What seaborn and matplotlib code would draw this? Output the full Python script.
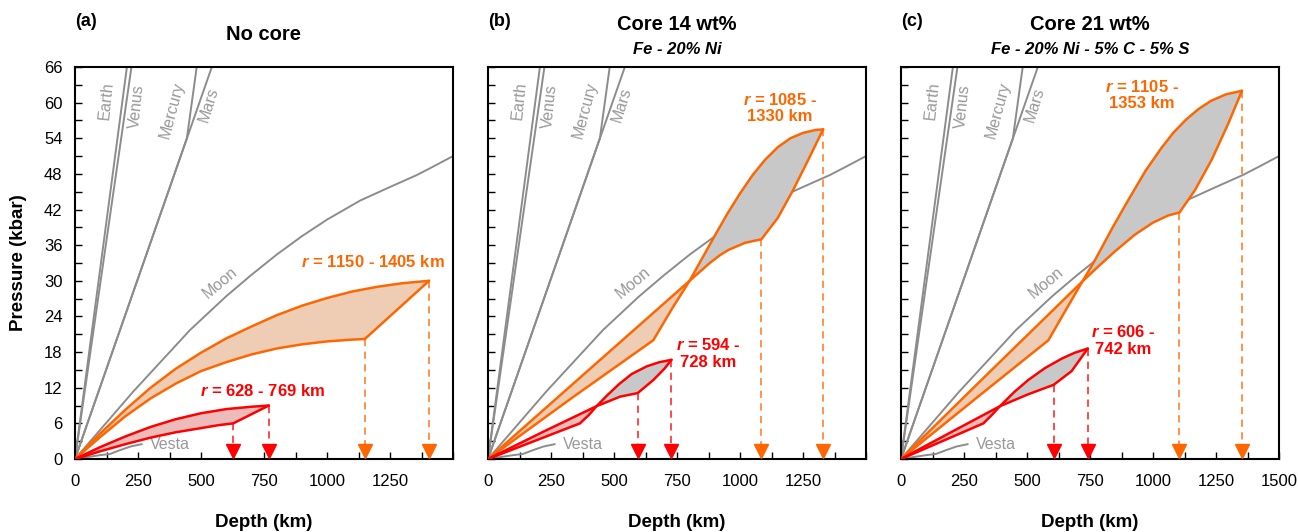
import numpy as np
import matplotlib
matplotlib.use("Agg")
import matplotlib.pyplot as plt
import seaborn as sns
from matplotlib.ticker import MultipleLocator, FixedLocator

# ---------------- data (depth km, pressure kbar) ----------------
earth_d = [0, 206]
earth_p = [0, 66]
venus_d = [0, 224]
venus_p = [0, 66]
mercury_d = [0, 444, 483]
mercury_p = [0, 54, 66]
mars_d = [0, 543]
mars_p = [0, 66]
moon_d = [0, 230, 456, 600, 700, 800, 900, 1000, 1131, 1250, 1356, 1420, 1500]
moon_p = [0, 11.3, 21.7, 27.4, 31.0, 34.4, 37.5, 40.3, 43.5, 45.8, 47.8, 49.2, 51.0]
vesta_d = [0, 60, 100, 139, 179, 220, 265]
vesta_p = [0, 0.4, 0.65, 0.85, 1.5, 2.1, 2.5]

# panel (a) no core
a_orange_up_d = [0, 100, 200, 300, 400, 500, 600, 700, 800, 900, 1000, 1100, 1200, 1300, 1405]
a_orange_up_p = [0, 4.3, 8.3, 12.0, 15.2, 17.9, 20.3, 22.3, 24.2, 25.8, 27.1, 28.2, 29.0, 29.6, 30.0]
a_orange_lo_d = [0, 100, 200, 300, 400, 500, 600, 700, 800, 900, 1000, 1100, 1150, 1405]
a_orange_lo_p = [0, 3.7, 7.2, 10.2, 12.7, 14.8, 16.3, 17.6, 18.6, 19.3, 19.8, 20.1, 20.2, 30.0]
a_red_up_d = [0, 100, 200, 300, 400, 500, 600, 700, 769]
a_red_up_p = [0, 2.0, 3.8, 5.4, 6.7, 7.7, 8.4, 8.8, 9.0]
a_red_lo_d = [0, 100, 200, 300, 400, 500, 570, 628, 769]
a_red_lo_p = [0, 1.3, 2.5, 3.6, 4.5, 5.2, 5.7, 6.0, 9.0]

# panel (b) core 14 wt%
b_orange_s_d = [0, 400, 800, 880, 920, 954, 1020, 1085, 1150, 1211, 1270, 1330]
b_orange_s_p = [0, 15.0, 30.0, 33.0, 34.3, 35.2, 36.4, 37.0, 40.6, 45.3, 50.3, 55.5]
b_orange_k_d = [0, 330, 656, 730, 800, 850, 900, 950, 1000, 1050, 1100, 1150, 1200, 1250, 1300, 1330]
b_orange_k_p = [0, 10.2, 20.0, 25.3, 30.0, 33.8, 37.6, 41.3, 44.7, 47.8, 50.4, 52.5, 54.0, 54.9, 55.4, 55.5]
b_orange_cross = 800
b_red_s_d = [0, 215, 431, 524, 594, 656, 700, 728]
b_red_s_p = [0, 4.5, 8.9, 10.5, 11.1, 13.3, 15.2, 16.7]
b_red_k_d = [0, 365, 400, 431, 470, 520, 570, 630, 680, 728]
b_red_k_p = [0, 6.0, 7.4, 8.9, 10.6, 12.6, 14.3, 15.6, 16.3, 16.7]
b_red_cross = 431

# panel (c) core 21 wt%
c_orange_s_d = [0, 360, 720, 780, 850, 929, 1000, 1060, 1105, 1167, 1233, 1299, 1353]
c_orange_s_p = [0, 15.0, 29.9, 32.3, 35.0, 37.8, 39.8, 41.0, 41.5, 45.3, 50.4, 56.5, 62.0]
c_orange_k_d = [0, 300, 585, 650, 720, 770, 840, 902, 970, 1034, 1080, 1130, 1180, 1230, 1290, 1353]
c_orange_k_p = [0, 10.3, 20.0, 24.8, 29.9, 33.5, 39.0, 43.6, 48.5, 52.4, 54.9, 57.1, 58.9, 60.3, 61.4, 62.0]
c_orange_cross = 720
c_red_s_d = [0, 196, 393, 505, 606, 677, 741]
c_red_s_p = [0, 4.45, 8.9, 10.9, 12.5, 14.8, 18.6]
c_red_k_d = [0, 327, 360, 393, 450, 505, 571, 638, 690, 741]
c_red_k_p = [0, 6.0, 7.4, 8.9, 11.3, 13.3, 15.3, 16.9, 17.9, 18.6]
c_red_cross = 393

# marker depths (r ranges) and their pressures
a_orange_r = [1150, 1405]; a_orange_rp = [20.2, 30.0]
a_red_r = [628, 769];      a_red_rp = [6.0, 9.0]
b_orange_r = [1085, 1330]; b_orange_rp = [37.0, 55.5]
b_red_r = [594, 728];      b_red_rp = [11.1, 16.7]
c_orange_r = [1105, 1353]; c_orange_rp = [41.5, 62.0]
c_red_r = [606, 741];      c_red_rp = [12.5, 18.6]

panel_letters = ["(a)", "(b)", "(c)"]
panel_titles = ["No core", "Core 14 wt%", "Core 21 wt%"]
panel_subtitles = ["", "Fe - 20% Ni", "Fe - 20% Ni - 5% C - 5% S"]

# ---------------- style ----------------
sns.set_style("ticks")
plt.rcParams["font.family"] = ["Liberation Sans", "DejaVu Sans"]
plt.rcParams["mathtext.fontset"] = "custom"
plt.rcParams["mathtext.it"] = "Liberation Sans:italic:bold"
plt.rcParams["mathtext.rm"] = "Liberation Sans:bold"
plt.rcParams["text.color"] = "black"
plt.rcParams["axes.labelcolor"] = "black"
plt.rcParams["xtick.color"] = "black"
plt.rcParams["ytick.color"] = "black"

ORANGE = "#FF6600"
ORANGE_FILL = "#EFCDB4"
ORANGE_DASH = "#FF8A3D"
RED = "#FF0000"
RED_FILL = "#EEBBBB"
RED_DASH = "#FF3B3B"
GRAY_FILL = "#C8C8C8"
PLANET = "#8C8C8C"
PLANET_TXT = "#999999"

W, H = 1298, 532
fig = plt.figure(figsize=(W / 100, H / 100), dpi=100)
lefts = [75, 488, 901]
axes = [fig.add_axes([l / W, (H - 459) / H, 378 / W, 392 / H]) for l in lefts]


def line(ax, d, p, color, lw, z):
    sns.lineplot(x=d, y=p, ax=ax, color=color, lw=lw, sort=False,
                 estimator=None, zorder=z, legend=False)


def region(ax, d1, p1, d2, p2, cross, fill_pre, fill_post, edge, lw):
    d1, p1, d2, p2 = map(np.asarray, (d1, p1, d2, p2))
    if cross is None:
        xs = np.r_[d1, d2[::-1]]
        ys = np.r_[p1, p2[::-1]]
        ax.fill(xs, ys, color=fill_pre, lw=0, zorder=3)
    else:
        m1, m2 = d1 <= cross, d2 <= cross
        ax.fill(np.r_[d1[m1], d2[m2][::-1]], np.r_[p1[m1], p2[m2][::-1]],
                color=fill_pre, lw=0, zorder=3)
        m1, m2 = d1 >= cross, d2 >= cross
        ax.fill(np.r_[d1[m1], d2[m2][::-1]], np.r_[p1[m1], p2[m2][::-1]],
                color=fill_post, lw=0, zorder=3)
    line(ax, d1, p1, edge, lw, 4)
    line(ax, d2, p2, edge, lw, 4)


def arrows(ax, ds, ps, dash, head):
    for d, p in zip(ds, ps):
        ax.plot([d, d], [p, 2.0], color=dash, lw=1.3, dashes=(4, 3), zorder=2)
        ax.plot([d], [1.3], marker="v", ms=9.5, color=head, mec=head, zorder=5,
                clip_on=False)


def rlabel(ax, x, y, txt, color):
    ax.text(x, y, txt, color=color, fontsize=12, fontweight="bold",
            ha="center", va="center", zorder=6, linespacing=1.15)


for i, ax in enumerate(axes):
    # planet reference lines
    for d, p in [(earth_d, earth_p), (venus_d, venus_p), (mercury_d, mercury_p),
                 (mars_d, mars_p), (moon_d, moon_p), (vesta_d, vesta_p)]:
        line(ax, d, p, PLANET, 1.4, 1)
    kw = dict(color=PLANET_TXT, fontsize=11.5, ha="center", va="center")
    ax.text(123, 60.3, "Earth", rotation=84, **kw)
    ax.text(245, 59.3, "Venus", rotation=84, **kw)
    ax.text(384, 58.8, "Mercury", rotation=75, **kw)
    ax.text(530, 59.6, "Mars", rotation=73, **kw)
    ax.text(575, 29.6, "Moon", rotation=40, **kw)
    ax.text(296, 2.4, "Vesta", color=PLANET_TXT, fontsize=11.5,
            ha="left", va="center")

    ax.set_xlim(0, 1500)
    ax.set_ylim(0, 66)
    ax.yaxis.set_major_locator(MultipleLocator(6))
    ax.yaxis.set_minor_locator(MultipleLocator(3))
    if i < 2:
        ax.xaxis.set_major_locator(FixedLocator([0, 250, 500, 750, 1000, 1250]))
    else:
        ax.xaxis.set_major_locator(MultipleLocator(250))
    ax.xaxis.set_minor_locator(MultipleLocator(125))
    ax.tick_params(which="both", direction="in", length=5, width=1,
                   top=False, right=False, labelsize=12, color="black",
                   labelcolor="black")
    ax.tick_params(axis="x", pad=10.5)
    ax.tick_params(axis="y", pad=9)
    if i > 0:
        ax.tick_params(labelleft=False)
    for s in ax.spines.values():
        s.set_linewidth(1.5)
        s.set_color("black")
    ax.set_xlabel("Depth (km)", fontsize=13.5, fontweight="bold", color="black")
    ax.xaxis.set_label_coords(0.5, -0.14)
    if i == 0:
        ax.set_ylabel("Pressure (kbar)", fontsize=13.5, fontweight="bold",
                      color="black")
        ax.yaxis.set_label_coords(-0.127, 0.5)
    else:
        ax.set_ylabel("")

ax = axes[0]
region(ax, a_orange_up_d, a_orange_up_p, a_orange_lo_d, a_orange_lo_p, None,
       ORANGE_FILL, GRAY_FILL, ORANGE, 1.8)
region(ax, a_red_up_d, a_red_up_p, a_red_lo_d, a_red_lo_p, None,
       RED_FILL, GRAY_FILL, RED, 1.8)
arrows(ax, a_orange_r, a_orange_rp, ORANGE_DASH, ORANGE)
arrows(ax, a_red_r, a_red_rp, RED_DASH, RED)
rlabel(ax, 1184, 33.1, r"$r$ = 1150 - 1405 km", ORANGE)
rlabel(ax, 743, 11.5, r"$r$ = 628 - 769 km", RED)

ax = axes[1]
region(ax, b_orange_s_d, b_orange_s_p, b_orange_k_d, b_orange_k_p, b_orange_cross,
       ORANGE_FILL, GRAY_FILL, ORANGE, 1.8)
region(ax, b_red_s_d, b_red_s_p, b_red_k_d, b_red_k_p, b_red_cross,
       RED_FILL, GRAY_FILL, RED, 1.8)
arrows(ax, b_orange_r, b_orange_rp, ORANGE_DASH, ORANGE)
arrows(ax, b_red_r, b_red_rp, RED_DASH, RED)
rlabel(ax, 1159, 59.1, "$r$ = 1085 -\n1330 km", ORANGE)
rlabel(ax, 872, 17.8, "$r$ = 594 -\n728 km", RED)

ax = axes[2]
region(ax, c_orange_s_d, c_orange_s_p, c_orange_k_d, c_orange_k_p, c_orange_cross,
       ORANGE_FILL, GRAY_FILL, ORANGE, 1.8)
region(ax, c_red_s_d, c_red_s_p, c_red_k_d, c_red_k_p, c_red_cross,
       RED_FILL, GRAY_FILL, RED, 1.8)
arrows(ax, c_orange_r, c_orange_rp, ORANGE_DASH, ORANGE)
arrows(ax, c_red_r, c_red_rp, RED_DASH, RED)
rlabel(ax, 956, 61.3, "$r$ = 1105 -\n1353 km", ORANGE)
rlabel(ax, 882, 20.0, "$r$ = 606 -\n742 km", RED)

# titles
for i, l in enumerate(lefts):
    cx = (l + 189) / W
    fig.text(l / W, 1 - 21 / H, panel_letters[i], fontsize=13, fontweight="bold",
             ha="left", va="center")
    if panel_subtitles[i]:
        fig.text(cx, 1 - 24 / H, panel_titles[i], fontsize=14.5, fontweight="bold",
                 ha="center", va="center")
        fig.text(cx, 1 - 49 / H, panel_subtitles[i], fontsize=12, fontweight="bold",
                 style="italic", ha="center", va="center")
    else:
        fig.text(cx, 1 - 35 / H, panel_titles[i], fontsize=14.5, fontweight="bold",
                 ha="center", va="center")

fig.savefig("out.png", dpi=100)
